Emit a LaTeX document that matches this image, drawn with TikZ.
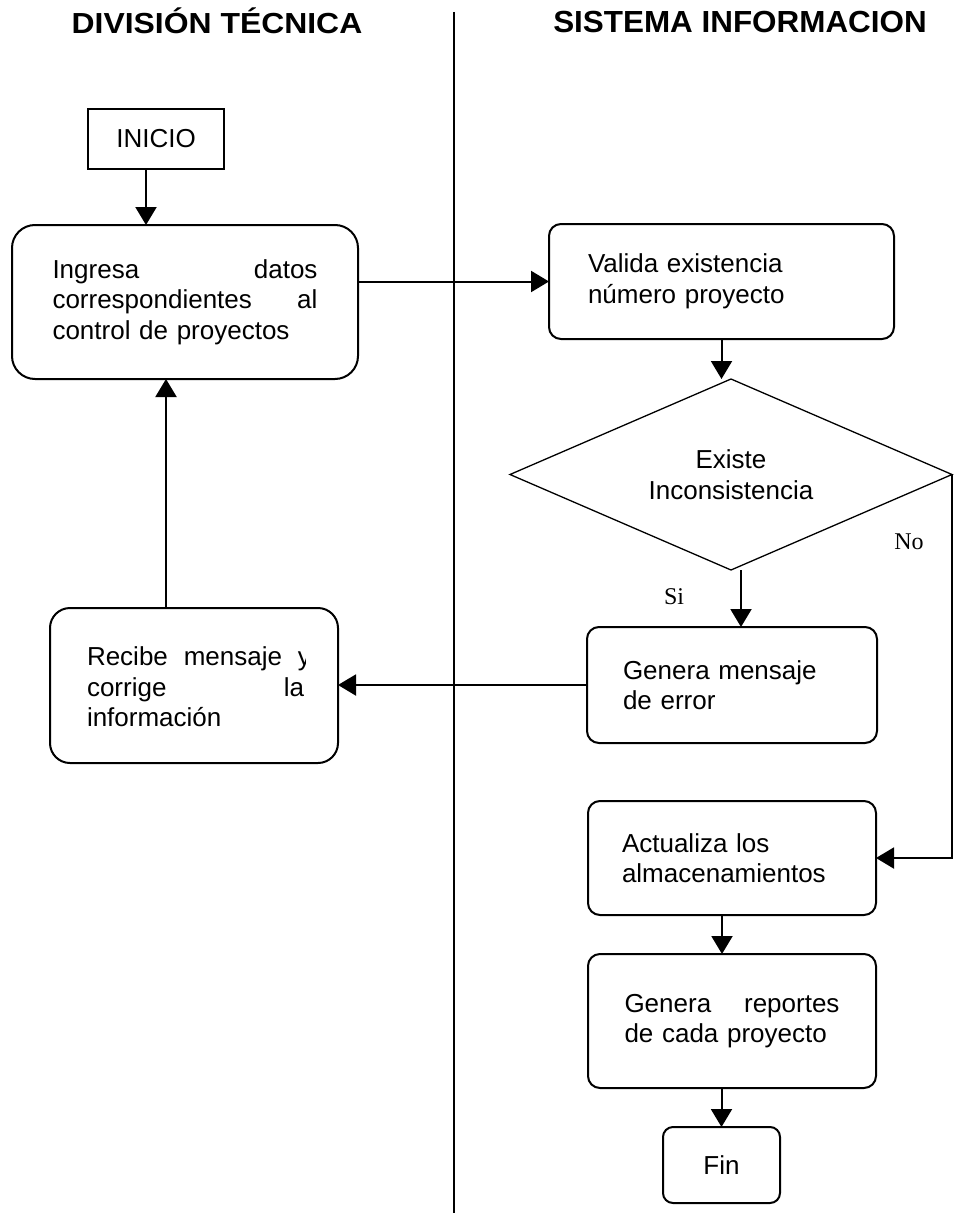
\documentclass[tikz,border=0pt]{standalone}
\usepackage{fontspec}
\setmainfont{Liberation Sans}
\newfontfamily\serifface{Liberation Serif}
\newfontfamily\headA[FakeStretch=1.10]{Liberation Sans}
\newfontfamily\headB[FakeStretch=1.03]{Liberation Sans}
\usetikzlibrary{arrows.meta,shapes.geometric}

\begin{document}
\begin{tikzpicture}[x=1pt,y=-1pt,
  every node/.style={inner sep=0pt, outer sep=0pt},
  body/.style={font=\fontsize{26}{30.5}\selectfont},
  flowbox/.style={body, draw, line width=2pt, align=left},
  arr/.style={line width=2pt, -{Triangle[length=18pt,width=21pt]}},
  lbl/.style={font=\serifface\fontsize{24}{24}\selectfont},
]
\useasboundingbox (0,0) rectangle (954,1220);

% column headings and lane separator
\node[anchor=base, font=\headA\bfseries\fontsize{29}{29}\selectfont] (hdl) at (217,33.3) {DIVISIÓN TÉCNICA};
\node[anchor=base, font=\headB\bfseries\fontsize{30.5}{30.5}\selectfont] (hdr) at (740,32.7) {SISTEMA INFORMACION};
\coordinate (sepTop) at (454,12);
\coordinate (sepBot) at (454,1213);
\draw[line width=2pt] (sepTop) -- (sepBot);

% left lane
\node[flowbox, align=center, minimum width=136pt, minimum height=60pt] (inicio) at (156,139) {INICIO};
\node[flowbox, rounded corners=23pt, minimum width=346pt, minimum height=154pt, text width=265pt] (ingresa) at (185,302)
  {Ingresa\hfill datos\\correspondientes\hfill al\\control de proyectos};
\node[flowbox, rounded corners=20pt, minimum width=288pt, minimum height=155pt] (recibe) at (194,685.5) {};
\begin{scope}
  \clip (recibe.north west) rectangle (305,763);
  \node[body, text width=217pt, align=left] (recibetxt) at (195.5,687)
    {Recibe\hfill mensaje\hfill\makebox[6pt][l]{y}\\corrige\hfill la\\información};
\end{scope}

% right lane
\node[flowbox, rounded corners=12pt, minimum width=345pt, minimum height=115pt, text width=267pt] (valida) at (721.5,281.5)
  {Valida existencia\\número proyecto};
\node[body, draw, line width=1.3pt, shape=diamond, aspect=2.31, minimum width=442pt, minimum height=191pt, align=center] (dia) at (731,474.5)
  {Existe\\Inconsistencia};
\node[flowbox, rounded corners=12pt, minimum width=290pt, minimum height=116pt, text width=218pt] (genera) at (732,685)
  {Genera mensaje\\de error};
\node[flowbox, rounded corners=12pt, minimum width=288pt, minimum height=114pt, text width=220pt] (actualiza) at (732,858)
  {Actualiza los\\almacenamientos};
\node[flowbox, rounded corners=12pt, minimum width=288pt, minimum height=134pt, text width=215pt] (reportes) at (732,1021)
  {Genera\hfill reportes\\de cada proyecto};
\node[flowbox, align=center, rounded corners=10pt, minimum width=117pt, minimum height=76pt] (fin) at (721.5,1165) {Fin};

% branch labels
\node[lbl] (nolab) at (909,542) {No};
\node[lbl] (silab) at (674,597) {Si};

% connectors
\coordinate (c1) at ([xshift=-10pt]inicio.south);
\draw[arr] (c1) -- (c1 |- ingresa.north);
\draw[arr] (ingresa.east |- valida.west) -- (valida.west);
\draw[arr] (valida.south) -- (valida.south |- dia.north);
\coordinate (c2) at ([xshift=10pt]dia.south);
\draw[arr] (c2) -- (c2 |- genera.north);
\draw[arr] (genera.west) -- (recibe.east |- genera.west);
\coordinate (c3) at ([xshift=-28pt]recibe.north);
\draw[arr] (c3) -- (c3 |- ingresa.south);
\draw[arr] (dia.east) |- (actualiza.east);
\coordinate (c4) at ([xshift=-10pt]actualiza.south);
\draw[arr] (c4) -- (c4 |- reportes.north);
\draw[arr] (fin.north |- reportes.south) -- (fin.north);
\end{tikzpicture}
\end{document}
